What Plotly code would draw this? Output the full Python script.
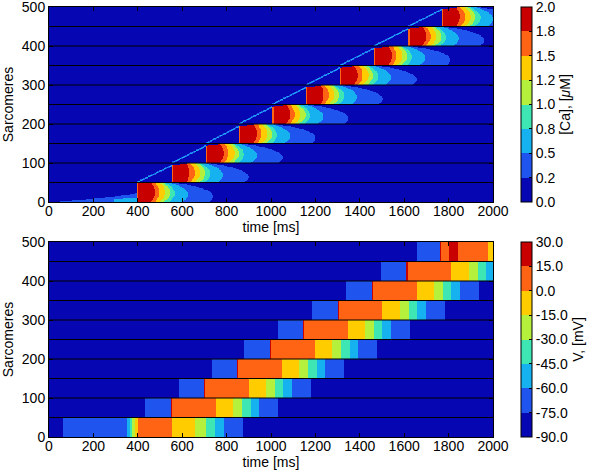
import numpy as np
import plotly.graph_objects as go

# ---- shared axes ----
t_max_ms = 2000
n_sarcomeres = 500
band_size = 50  # one cell = 50 sarcomeres

# 8 discrete contour colours, low -> high
level_colors = ["#0606b2", "#1f55ee", "#16b2f0", "#3ee6b4",
                "#b4f03c", "#ffcc00", "#ff6414", "#c80000"]

# ---- [Ca] panel ----
ca_tickvals = [0.0, 0.25, 0.5, 0.75, 1.0, 1.25, 1.5, 1.75, 2.0]
ca_ticktext = ["0.0", "0.2", "0.5", "0.8", "1.0", "1.2", "1.5", "1.8", "2.0"]
ca_onset_ms = [396, 554, 707, 856, 1005, 1158, 1311, 1464, 1617, 1771]
# lag after onset (ms, band centre) where each level ends, levels 1..7 (blue .. red)
ca_level_end_ms = [345, 230, 172, 150, 128, 102, 80]
# sarcomere (within a cell) where each level's contour bulges most
ca_level_centre = [14, 19, 22, 24, 25, 25, 25]
ca_front_ms = 6
ca_ramp_start_ms = 50

# ---- V panel ----
v_tickvals = [-90, -75, -60, -45, -30, -15, 0, 15, 30]
v_ticktext = ["-90.0", "-75.0", "-60.0", "-45.0", "-30.0", "-15.0", "0.0", "15.0", "30.0"]
v_onset_ms = [400, 549, 698, 847, 995, 1144, 1300, 1454, 1611, 1763]
# action potential steps: offset from onset (ms) and level shown from there on
ap_step_ms = [-114, 0, 6, 202, 281, 322, 359, 397, 484]
ap_step_mv = [-67.5, 22.5, 7.5, -7.5, -22.5, -37.5, -52.5, -67.5, -82.5]
# first cell (paced) and last cell differ
first_step_ms = [63, 351, 365, 374, 387, 400, 556, 658, 706, 747, 788, 872]
first_step_mv = [-67.5, -52.5, -37.5, -22.5, -7.5, 7.5, -7.5, -22.5, -37.5, -52.5, -67.5, -82.5]
last_step_ms = [1656, 1761, 1767, 1803, 1844, 1979]
last_step_mv = [-67.5, 22.5, 7.5, 22.5, 7.5, -7.5]
v_rest_mv = -82.5


def step_colorscale(colors):
    n = len(colors)
    cs = []
    for i, c in enumerate(colors):
        cs.append([i / n, c])
        cs.append([(i + 1) / n, c])
    return cs


# ---- build [Ca] field ----
ca_mid = [0.125 + 0.25 * i for i in range(8)]
t_ca = np.arange(2, t_max_ms, 4)
s_ca = np.arange(0.5, n_sarcomeres, 1.0)
T, S = np.meshgrid(t_ca, s_ca)
band = (S // band_size).astype(int)
sb = S - band * band_size
onset = np.array(ca_onset_ms)[band]
prev_onset = np.array([ca_ramp_start_ms] + ca_onset_ms[:-1])[band]
dt = T - onset

lvl = np.zeros(T.shape, dtype=int)
top_edge = np.where(band == 0, band_size, 44 + 6 * np.clip(dt / 90, 0, 1))
for i, (end, sc) in enumerate(zip(ca_level_end_ms, ca_level_centre)):
    start = ca_front_ms if i == 6 else 0
    inside = (dt >= start) & ((dt / end) ** 2 + ((sb - sc) / 40) ** 2 <= 1) & (sb <= top_edge)
    lvl[inside] = i + 1

# diffusion front crossing each cell before it fires
pre = (dt < 0) & (T >= prev_onset)
frac = (T - prev_onset) / (onset - prev_onset)
front = np.where(band == 0, 2 + 20 * frac ** 1.4, 44 * frac)
lvl[pre & (band > 0) & (np.abs(sb - front) < 2.5)] = 1
lvl[pre & (band > 0) & (np.abs(sb - front) < 1.0)] = 2
lvl[pre & (band == 0) & (sb < front)] = 1
lvl[pre & (band == 0) & (sb < front * 0.5) & (frac > 0.7)] = 2
ca_z = np.round(np.array(ca_mid)[lvl], 3)

# ---- build V field ----
t_v = np.arange(1, t_max_ms, 2)
s_v = np.arange(band_size / 2, n_sarcomeres, band_size)
v_z = np.full((len(s_v), len(t_v)), v_rest_mv)
for k, t0 in enumerate(v_onset_ms):
    if k == 0:
        steps, vals = np.array(first_step_ms), first_step_mv
    elif k == len(v_onset_ms) - 1:
        steps, vals = np.array(last_step_ms), last_step_mv
    else:
        steps, vals = t0 + np.array(ap_step_ms), ap_step_mv
    idx = np.searchsorted(steps, t_v, side="right") - 1
    row = np.where(idx >= 0, np.array(vals)[np.clip(idx, 0, None)], v_rest_mv)
    v_z[k] = row

font = dict(family="Liberation Sans, Arial, sans-serif", size=14, color="black")
colorscale = step_colorscale(level_colors)

top_dom = [(473 - 202) / 473, (473 - 7) / 473]
bot_dom = [(473 - 437) / 473, (473 - 242) / 473]
x_dom = [49 / 600, 493 / 600]


def colorbar(dom, tickvals, ticktext, title):
    return dict(x=521 / 600, xanchor="left", y=dom[0], yanchor="bottom",
                len=dom[1] - dom[0], lenmode="fraction", thickness=11,
                xpad=0, ypad=0, outlinewidth=1, outlinecolor="black",
                ticks="inside", ticklen=3, tickcolor="black",
                tickvals=tickvals, ticktext=ticktext, tickfont=font,
                ticklabeloverflow="allow",
                title=dict(text=title, side="right", font=font))


fig = go.Figure()
fig.add_trace(go.Heatmap(
    x=t_ca, y=s_ca, z=ca_z, zmin=0, zmax=2, colorscale=colorscale,
    zsmooth=False, hoverinfo="skip",
    colorbar=colorbar(top_dom, ca_tickvals, ca_ticktext, "[Ca], [<i>μ</i>M]"),
    xaxis="x", yaxis="y"))
fig.add_trace(go.Heatmap(
    x=t_v, y=s_v, z=v_z, zmin=-90, zmax=30, colorscale=colorscale,
    zsmooth=False, hoverinfo="skip",
    colorbar=colorbar(bot_dom, v_tickvals, v_ticktext, "V, [mV]"),
    xaxis="x2", yaxis="y2"))

axis_style = dict(showline=True, linecolor="black", linewidth=1, mirror="ticks",
                  ticks="inside", ticklen=4, tickcolor="black", showgrid=False,
                  zeroline=False, tickfont=font, automargin=False,
                  ticklabeloverflow="allow")
x_style = dict(axis_style, ticklabelstandoff=-4)
fig.update_layout(
    width=600, height=473,
    margin=dict(l=0, r=0, t=0, b=0, autoexpand=False),
    paper_bgcolor="white", plot_bgcolor="white", font=font,
    xaxis=dict(domain=x_dom, range=[0, t_max_ms], dtick=200, anchor="y",
               title=dict(text="time [ms]", font=font, standoff=0), **x_style),
    yaxis=dict(domain=top_dom, range=[0, n_sarcomeres], dtick=100, anchor="x",
               title=dict(text="Sarcomeres", font=font, standoff=4), **axis_style),
    xaxis2=dict(domain=x_dom, range=[0, t_max_ms], dtick=200, anchor="y2",
                title=dict(text="time [ms]", font=font, standoff=0), **x_style),
    yaxis2=dict(domain=bot_dom, range=[0, n_sarcomeres], dtick=100, anchor="x2",
                title=dict(text="Sarcomeres", font=font, standoff=4), **axis_style),
)

for xr, yr in [("x", "y"), ("x2", "y2")]:
    for yb in range(band_size, n_sarcomeres, band_size):
        fig.add_shape(type="line", xref=xr, yref=yr, x0=0, x1=t_max_ms, y0=yb, y1=yb,
                      line=dict(color="black", width=1), layer="above")

fig.write_html("out.html", config={"displayModeBar": False},
               post_script="document.body.style.margin = '0';")
